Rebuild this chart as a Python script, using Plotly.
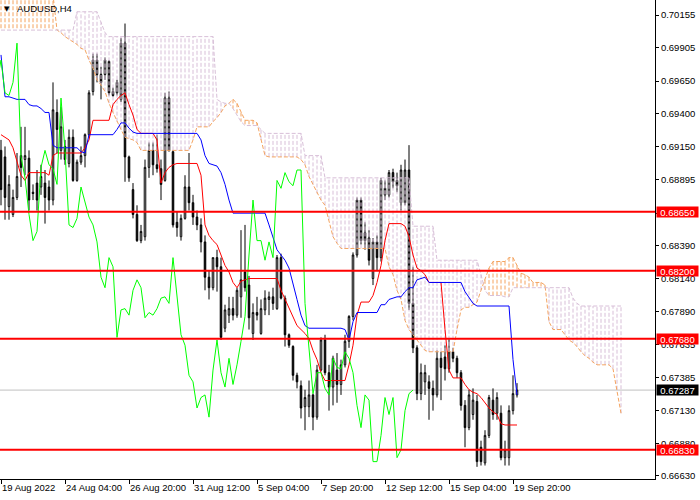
import plotly.graph_objects as go

# AUDUSD H4 bars, 19 Aug 2022 12:00 .. 20 Sep 2022 00:00 (index = bar number)
open_ = [
    .6912, .6907, .6869, .6863, .6876, .6908, .6905, .6906, .6880, .6887,
    .6884, .6887, .6884, .6874, .6941, .6912, .6915, .6902, .6922, .6889,
    .6903, .6908, .6924, .6957, .6981, .6970, .6970, .6980, .6957, .6956,
    .6951, .6994, .6907, .6882, .6863, .6843, .6846, .6899, .6912, .6901,
    .6898, .6889, .6952, .6911, .6857, .6846, .6860, .6884, .6872, .6861,
    .6855, .6842, .6815, .6807, .6830, .6823, .6776, .6786, .6791, .6786,
    .6800, .6819, .6809, .6772, .6788, .6772, .6790, .6798, .6800, .6791,
    .6830, .6799, .6771, .6762, .6740, .6732, .6716, .6716, .6725, .6708,
    .6744, .6767, .6742, .6731, .6744, .6733, .6748, .6766, .6785, .6832,
    .6874, .6849, .6845, .6814, .6842, .6830, .6878, .6878, .6895, .6889,
    .6872, .6872, .6897, .6795, .6761, .6726, .6735, .6735, .6730, .6725,
    .6753, .6754, .6745, .6758, .6753, .6742, .6717, .6700, .6710, .6720,
    .6685, .6673, .6694, .6721, .6711, .6711, .6677, .6677, .6713, .6725,
]
high = [
    .6920, .6915, .6893, .6882, .6910, .6930, .6930, .6912, .6886, .6897,
    .6901, .6897, .6889, .6964, .6951, .6945, .6920, .6928, .6928, .6905,
    .6915, .6925, .6958, .6986, .6986, .6976, .6983, .6981, .6960, .6966,
    .6998, .7009, .6908, .6887, .6870, .6855, .6905, .6918, .6918, .6924,
    .6905, .6956, .6957, .6912, .6865, .6863, .6893, .6910, .6878, .6866,
    .6860, .6847, .6820, .6830, .6836, .6830, .6794, .6800, .6800, .6807,
    .6851, .6855, .6816, .6795, .6800, .6798, .6805, .6804, .6807, .6832,
    .6833, .6801, .6772, .6763, .6742, .6736, .6729, .6736, .6726, .6748,
    .6769, .6771, .6748, .6755, .6757, .6752, .6771, .6786, .6834, .6876,
    .6876, .6857, .6851, .6845, .6847, .6891, .6889, .6897, .6898, .6895,
    .6901, .6905, .6916, .6823, .6763, .6749, .6748, .6740, .6736, .6759,
    .6758, .6763, .6768, .6761, .6755, .6744, .6721, .6729, .6730, .6725,
    .6690, .6698, .6725, .6730, .6727, .6717, .6690, .6717, .6740, .6734,
]
low = [
    .6870, .6859, .6859, .6861, .6874, .6884, .6893, .6866, .6874, .6866,
    .6878, .6856, .6866, .6870, .6910, .6905, .6901, .6899, .6888, .6888,
    .6901, .6899, .6922, .6954, .6964, .6951, .6966, .6954, .6953, .6954,
    .6949, .6888, .6888, .6860, .6842, .6841, .6843, .6891, .6893, .6895,
    .6874, .6888, .6911, .6853, .6846, .6843, .6859, .6866, .6855, .6851,
    .6834, .6805, .6798, .6805, .6804, .6767, .6773, .6780, .6782, .6784,
    .6784, .6804, .6775, .6767, .6782, .6771, .6786, .6786, .6790, .6790,
    .6798, .6762, .6761, .6736, .6730, .6707, .6698, .6708, .6698, .6706,
    .6743, .6740, .6713, .6717, .6719, .6725, .6746, .6761, .6782, .6830,
    .6840, .6836, .6824, .6809, .6820, .6827, .6874, .6876, .6883, .6880,
    .6866, .6870, .6790, .6757, .6721, .6721, .6725, .6706, .6713, .6723,
    .6721, .6736, .6742, .6750, .6738, .6713, .6685, .6698, .6706, .6670,
    .6671, .6671, .6692, .6706, .6706, .6675, .6671, .6671, .6710, .6723,
]
close = [
    .6882, .6876, .6886, .6876, .6892, .6899, .6908, .6874, .6879, .6874,
    .6892, .6876, .6874, .6943, .6928, .6930, .6905, .6922, .6889, .6903,
    .6908, .6924, .6956, .6981, .6970, .6964, .6981, .6956, .6954, .6964,
    .6994, .6907, .6891, .6863, .6843, .6850, .6899, .6912, .6901, .6898,
    .6886, .6952, .6912, .6855, .6853, .6860, .6884, .6872, .6861, .6855,
    .6842, .6815, .6807, .6830, .6823, .6769, .6790, .6791, .6786, .6805,
    .6813, .6807, .6784, .6788, .6786, .6791, .6799, .6800, .6795, .6830,
    .6799, .6771, .6763, .6740, .6735, .6715, .6723, .6725, .6708, .6744,
    .6767, .6742, .6731, .6753, .6733, .6748, .6766, .6785, .6832, .6874,
    .6843, .6843, .6828, .6842, .6830, .6889, .6883, .6895, .6888, .6885,
    .6897, .6897, .6795, .6761, .6726, .6742, .6742, .6730, .6725, .6753,
    .6746, .6745, .6758, .6753, .6742, .6717, .6700, .6725, .6721, .6674,
    .6674, .6694, .6723, .6710, .6723, .6677, .6683, .6713, .6726, .67287,
]

# Ichimoku lines
tenkan = (
    [.6924, .6922, .6920, .6914, .6903, .6893, .6889, .6895, .6895, .6895,
     .6895, .6895, .6893, .6908]
    + [.6910] * 7 + [.6914, .6920] + [.6935] * 5
    + [.6947, .6951, .6954, .6956, .6947, .6939, .6928] + [.6925] * 4
    + [.6920, .6887, .6895, .6899, .6901] + [.6902] * 6
    + [.6893, .6855, .6847, .6843, .6840, .6832, .6824, .6819, .6811, .6807,
       .6812, .6813] + [.6814] * 8
    + [.6805, .6798, .6791, .6784, .6778, .6775, .6772, .6768, .6759, .6752,
       .6742] + [.6736] * 6
    + [.6748, .6763, .6786] + [.6796] * 3 + [.6801, .6811, .6824, .6843]
    + [.6856] * 3 + [.6856, .6854, .6846, .6832, .6822, .6820, .6817]
    + [.6811] * 4 + [.6775, .6744] + [.6738] * 3
    + [.6733, .6729, .6727, .6726, .6723, .6719, .6715, .6712, .6710, .6703]
    + [.6702] * 4
)
kijun = (
    [.6985, .6953, .6953, .6952, .6951, .6951, .6951, .6947, .6946, .6946,
     .6944, .6941, .6941, .6916]
    + [.6914] * 6 + [.6911, .6910] + [.6924] * 7
    + [.6928, .6933, .6933, .6929, .6926] + [.6925] * 16
    + [.6920, .6908, .6902, .6901, .6900, .6895, .6886, .6874, .6864]
    + [.6864] * 8
    + [.6855, .6846, .6836, .6832, .6828, .6822, .6809, .6798, .6786, .6778]
    + [.6776] * 9 + [.6775, .6767, .6781, .6788] + [.6788] * 5
    + [.6794, .6794, .6798, .6799, .6800, .6800, .6804, .6807, .6807, .6813,
       .6814, .6815] + [.6811] * 9
    + [.6804, .6799, .6795] + [.6793] * 9 + [.6752, .6725]
)
senkou_a = (
    [.7036] * 13 + [.7031]
    + [.7004, .7002, .6999, .6997, .6995, .6993, .6990, .6989, .6981, .6975,
       .6966, .6962, .6957, .6948, .6941, .6934, .6928, .6922, .6921, .6920,
       .6918]
    + [.6912] * 13 + [.6920] + [.6930] * 4
    + [.6934, .6937, .6941, .6946, .6948, .6951, .6948, .6941]
    + [.6935] * 3 + [.6933, .6920, .6908] + [.6907] * 8
    + [.6905, .6901, .6892, .6886, .6879, .6874, .6870, .6859, .6846, .6841]
    + [.6837] * 12
    + [.6823, .6817, .6805, .6798, .6782, .6775, .6771, .6767, .6763, .6759]
    + [.6758] * 7
    + [.6775, .6790, .6792, .6792, .6794, .6796, .6805, .6813, .6822]
    + [.6827] * 4 + [.6830, .6830, .6824, .6818, .6817, .6815]
    + [.6811] * 3
    + [.6809, .6781, .6775, .6775, .6775, .6771, .6767, .6765, .6762, .6758,
       .6755, .6753, .6750]
    + [.6748] * 4 + [.6745, .6729, .6711]
)
senkou_b = (
    [.7004] * 19 + [.7018] * 6 + [.7010, .7002] + [.6999] * 27
    + [.6951, .6949, .6948, .6948, .6944, .6939, .6934] + [.6931] * 4
    + [.6928] + [.6925] * 10 + [.6908] * 5 + [.6891] * 22 + [.6854] * 6
    + [.6828] * 11 + [.6817, .6805] + [.6801] * 4 + [.6800] * 2
    + [.6807] * 15 + [.6799, .6795] + [.6793] * 11
)

levels = [0.6865, 0.6820, 0.6768, 0.6683]
last_price = 0.67287
symbol = "AUDUSD,H4"

tick_bars = [0, 16, 32, 48, 64, 80, 96, 112, 128]
tick_labels = ["19 Aug 2022", "24 Aug 04:00", "26 Aug 20:00", "31 Aug 12:00",
               "5 Sep 04:00", "7 Sep 20:00", "12 Sep 12:00", "15 Sep 04:00",
               "19 Sep 20:00"]
price_ticks = [0.70155, 0.69905, 0.69650, 0.69400, 0.69150, 0.68895, 0.68640,
               0.68390, 0.68140, 0.67890, 0.67635, 0.67385, 0.67130, 0.66880,
               0.66630]

FONT = "Liberation Sans"
SHIFT = 26
DOTS = "4px,2px"
bars = list(range(len(close)))
cloud_x = list(range(len(senkou_a)))

# cloud hatching: one dotted vertical per bar between span A and span B
hatch = {"up": ([], []), "down": ([], [])}
for i, a, b in zip(cloud_x, senkou_a, senkou_b):
    key = "up" if a >= b else "down"
    hatch[key][0].extend([i, i, None])
    hatch[key][1].extend([a, b, None])

fig = go.Figure()

fig.add_trace(go.Candlestick(
    x=bars, open=open_, high=high, low=low, close=close,
    increasing=dict(line=dict(color="black", width=1), fillcolor="white"),
    decreasing=dict(line=dict(color="black", width=1), fillcolor="black"),
    whiskerwidth=0, hoverinfo="skip",
))

for key, color in [("up", "#F4A460"), ("down", "#D8BFD8")]:
    fig.add_trace(go.Scatter(
        x=hatch[key][0], y=hatch[key][1], mode="lines",
        line=dict(color=color, width=1, dash=DOTS), hoverinfo="skip",
    ))

fig.add_trace(go.Scatter(x=cloud_x, y=senkou_a, mode="lines",
                         line=dict(color="#F4A460", width=1, dash=DOTS),
                         hoverinfo="skip"))
fig.add_trace(go.Scatter(x=cloud_x, y=senkou_b, mode="lines",
                         line=dict(color="#D8BFD8", width=1, dash=DOTS),
                         hoverinfo="skip"))
fig.add_trace(go.Scatter(x=bars, y=tenkan, mode="lines",
                         line=dict(color="#FF0000", width=1), hoverinfo="skip"))
fig.add_trace(go.Scatter(x=bars, y=kijun, mode="lines",
                         line=dict(color="#0000FF", width=1), hoverinfo="skip"))
fig.add_trace(go.Scatter(x=[i - SHIFT for i in bars], y=close, mode="lines",
                         line=dict(color="#00FF00", width=1), hoverinfo="skip"))

fig.add_hline(y=last_price, line=dict(color="#C0C0C0", width=1), layer="below")
for lv in levels:
    fig.add_hline(y=lv, line=dict(color="#FF0000", width=2), layer="above")

label_font = dict(family=FONT, size=9.5, color="white")
for lv in levels:
    fig.add_annotation(x=1, xref="paper", y=lv, yref="y", xanchor="left",
                       xshift=1, text=f"{lv:.5f}", showarrow=False,
                       bgcolor="#FF0000", font=label_font, width=41, height=10,
                       borderpad=0)
fig.add_annotation(x=1, xref="paper", y=last_price, yref="y", xanchor="left",
                   xshift=1, text=f"{last_price:.5f}", showarrow=False,
                   bgcolor="black", font=label_font, width=41, height=10,
                   borderpad=0)

fig.add_annotation(x=0, xref="paper", y=1, yref="paper", xanchor="left",
                   yanchor="top", xshift=2, yshift=-3, text="▼", showarrow=False,
                   font=dict(family="DejaVu Sans", size=7, color="black"))
fig.add_annotation(x=0, xref="paper", y=1, yref="paper", xanchor="left",
                   yanchor="top", xshift=15, yshift=-1, text=symbol,
                   showarrow=False,
                   font=dict(family=FONT, size=9.5, color="black"))

fig.update_layout(
    width=700, height=500,
    margin=dict(l=0, r=45, t=0, b=21),
    paper_bgcolor="white", plot_bgcolor="white",
    showlegend=False, boxgap=0.45,
    font=dict(family=FONT, size=9.5, color="black"),
    xaxis=dict(
        range=[-0.25, 163.5], rangeslider=dict(visible=False),
        showgrid=False, zeroline=False, automargin=False,
        showline=True, linecolor="black", linewidth=1,
        ticks="outside", ticklen=4, tickcolor="black", tickangle=0,
        tickvals=tick_bars, ticktext=tick_labels,
        ticklabelposition="outside right",
    ),
    yaxis=dict(
        range=[0.66607, 0.70270], side="right",
        showgrid=False, zeroline=False, automargin=False,
        showline=True, linecolor="black", linewidth=1,
        ticks="outside", ticklen=3, tickcolor="black",
        tickvals=price_ticks, ticktext=[f"{v:.5f}" for v in price_ticks],
    ),
)

fig.write_html("out.html", config={"displayModeBar": False},
               post_script="document.body.style.margin='0px';")
